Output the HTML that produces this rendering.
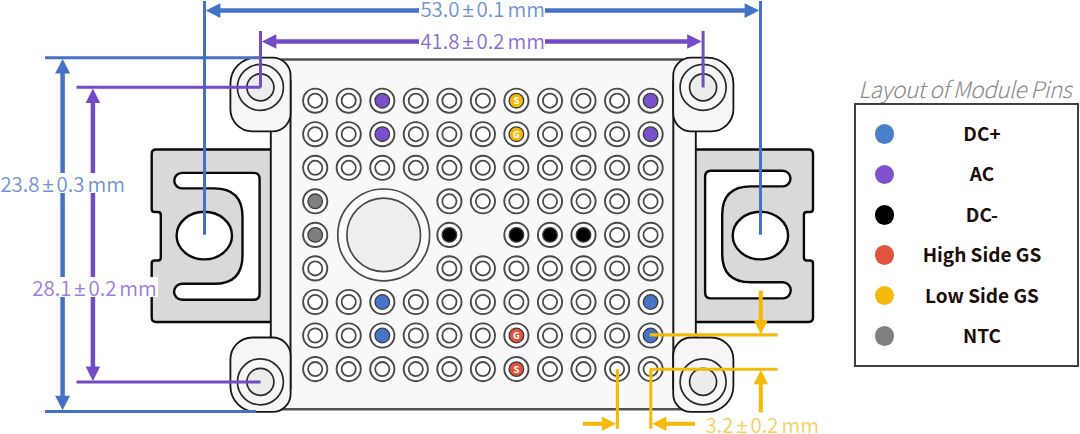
<!DOCTYPE html>
<html lang="en">
<head>
<meta charset="utf-8">
<title>Layout of Module Pins</title>
<style>
html,body{margin:0;padding:0;background:#fff;}
body{width:1080px;height:434px;overflow:hidden;position:relative;font-family:"Noto Sans CJK SC","Liberation Sans",sans-serif;}
svg{position:absolute;left:0;top:0;display:block;}
.br{fill:#d9d9d9;stroke:#0a0a0a;stroke-width:2.4;stroke-linejoin:round;}
.sl{fill:#fff;stroke:#0a0a0a;stroke-width:2.4;}
.fl{fill:#f8f8f8;stroke:#141414;stroke-width:1.9;}
.bd{fill:#f8f8f8;stroke:#4a4a4a;stroke-width:2;}
.bs{fill:#f6f6f6;stroke:#161616;stroke-width:1.8;}
.bc{fill:none;stroke:#2a2a2a;stroke-width:1.7;}
.bi{fill:#ececec;stroke:#2a2a2a;stroke-width:1.7;}
.po{fill:#fff;stroke:#4a4a4a;stroke-width:1.9;}
.pi{fill:#fff;stroke:#4a4a4a;stroke-width:1.8;}
.pc{stroke:#3c3c3c;stroke-width:1.3;}
.pl{font-size:9.5px;font-weight:700;fill:#fff;text-anchor:middle;}
.lb{stroke:#4472c4;fill:none;}
.lp{stroke:#734bc6;fill:none;}
.ly{stroke:#f3ba0c;fill:none;}
.dim{position:absolute;white-space:nowrap;font-weight:350;font-size:20.4px;line-height:20.3px;height:20.3px;padding:0 1px;background:#fff;word-spacing:-1.6px;overflow:visible;}
.pm{font-family:"Liberation Sans",sans-serif;line-height:0;}
.legend-title{position:absolute;left:858.3px;top:75.2px;font-size:22.7px;line-height:28px;letter-spacing:-0.6px;font-style:italic;font-weight:300;color:#8a8a8a;white-space:nowrap;}
.legend{position:absolute;left:853.7px;top:102.6px;width:221.6px;height:260px;border:2px solid #404040;background:#fff;box-sizing:content-box;}
.legend .row{position:absolute;left:0;width:100%;height:40px;}
.legend .dot{position:absolute;left:19.4px;top:10.3px;width:19.4px;height:19.4px;border-radius:50%;}
.legend .lab{position:absolute;left:31px;right:0;top:0;height:40px;line-height:37px;text-align:center;font-weight:700;font-size:19px;color:#1c0d0d;white-space:nowrap;}
</style>
</head>
<body>
<svg width="1080" height="434" viewBox="0 0 1080 434">
<!-- mounting brackets -->
<g><path class="br" d="M271.5 149.5 H156 Q151.7 149.5 151.7 154 V209 Q151.7 212 154.5 212 H158 Q160.8 212 160.8 215 V257.5 Q160.8 260.5 158 260.5 H154.5 Q151.7 260.5 151.7 263.5 V317.5 Q151.7 322 156 322 H271.5 Z"/>
<path class="sl" d="M182 172.9 H253.6 Q259.6 172.9 259.6 178.9 V293.7 Q259.6 299.7 253.6 299.7 H182 A7.95 7.95 0 0 1 182 283.8 H214 Q242.5 283.8 242.5 255.4 V216.8 Q242.5 188.4 214 188.4 H182 A7.75 7.75 0 0 1 182 172.9 Z"/>
<ellipse class="sl" cx="204.3" cy="235.6" rx="27.7" ry="23.8"/></g>
<g transform="translate(964.7 0) scale(-1 1)"><path class="br" d="M271.5 149.5 H156 Q151.7 149.5 151.7 154 V209 Q151.7 212 154.5 212 H158 Q160.8 212 160.8 215 V257.5 Q160.8 260.5 158 260.5 H154.5 Q151.7 260.5 151.7 263.5 V317.5 Q151.7 322 156 322 H271.5 Z"/>
<path class="sl" d="M182 170.8 H253.6 Q259.6 170.8 259.6 176.8 V292.4 Q259.6 298.4 253.6 298.4 H182 A8.05 8.05 0 0 1 182 282.3 H214 Q242.5 282.3 242.5 253.9 V214.8 Q242.5 186.4 214 186.4 H182 A7.80 7.80 0 0 1 182 170.8 Z"/>
<ellipse class="sl" cx="204.3" cy="235.6" rx="27.7" ry="23.8"/></g>
<!-- flange and body -->
<rect class="fl" x="270.8" y="95" width="425" height="280"/>
<path d="M281 59.5 H683 L673.3 76 V393 L683 409.3 H281 L290.5 393 V76 Z" fill="#f8f8f8"/>
<path d="M281 59.6 H683 M281 409.3 H683" fill="none" stroke="#505050" stroke-width="2.5"/>
<path d="M290.5 80 V389 M673.3 80 V389" fill="none" stroke="#1c1c1c" stroke-width="2"/>
<!-- corner bosses -->
<path class="bs" d="M256.4 57.6 H272.6 A18 18 0 0 1 290.6 75.6 V113.3 A18 18 0 0 1 272.6 131.3 H252.4 A22 22 0 0 1 230.4 109.3 V83.6 A26 26 0 0 1 256.4 57.6 Z"/>
<path class="bs" d="M691.2 57.6 H707.4 A26 26 0 0 1 733.4 83.6 V109.3 A22 22 0 0 1 711.4 131.3 H691.2 A18 18 0 0 1 673.2 113.3 V75.6 A18 18 0 0 1 691.2 57.6 Z"/>
<path class="bs" d="M252.4 337.5 H272.6 A18 18 0 0 1 290.6 355.5 V393.9 A18 18 0 0 1 272.6 411.9 H256.4 A26 26 0 0 1 230.4 385.9 V359.5 A22 22 0 0 1 252.4 337.5 Z"/>
<path class="bs" d="M691.2 337.5 H711.4 A22 22 0 0 1 733.4 359.5 V385.9 A26 26 0 0 1 707.4 411.9 H691.2 A18 18 0 0 1 673.2 393.9 V355.5 A18 18 0 0 1 691.2 337.5 Z"/>
<g>
<circle class="bc" cx="260.4" cy="87.4" r="23"/><circle class="bi" cx="260.4" cy="87.4" r="13.5"/>
<circle class="bc" cx="703.1" cy="87.4" r="23"/><circle class="bi" cx="703.1" cy="87.4" r="13.5"/>
<circle class="bc" cx="260.4" cy="381.8" r="23"/><circle class="bi" cx="260.4" cy="381.8" r="13.5"/>
<circle class="bc" cx="703.1" cy="381.8" r="23"/><circle class="bi" cx="703.1" cy="381.8" r="13.5"/>
</g>
<!-- big centre circle -->
<circle cx="383.7" cy="234.9" r="45.9" fill="#fcfcfc" stroke="#4a4a4a" stroke-width="1.7"/>
<circle cx="383.7" cy="234.9" r="36.8" fill="#eeeeee" stroke="#4a4a4a" stroke-width="1.7"/>
<!-- pins -->
<g>
<circle class="po" cx="315.2" cy="100.7" r="12.1"/>
<circle class="pi" cx="315.2" cy="100.7" r="7.1"/>
<circle class="po" cx="348.7" cy="100.7" r="12.1"/>
<circle class="pi" cx="348.7" cy="100.7" r="7.1"/>
<circle class="po" cx="382.3" cy="100.7" r="12.1"/>
<circle class="pc" cx="382.3" cy="100.7" r="7.3" fill="#7a50cc"/>
<circle class="po" cx="415.8" cy="100.7" r="12.1"/>
<circle class="pi" cx="415.8" cy="100.7" r="7.1"/>
<circle class="po" cx="449.4" cy="100.7" r="12.1"/>
<circle class="pi" cx="449.4" cy="100.7" r="7.1"/>
<circle class="po" cx="482.9" cy="100.7" r="12.1"/>
<circle class="pi" cx="482.9" cy="100.7" r="7.1"/>
<circle class="po" cx="516.4" cy="100.7" r="12.1"/>
<circle class="pc" cx="516.4" cy="100.7" r="7.3" fill="#f3ba0c"/>
<text class="pl" x="516.4" y="104.2">S</text>
<circle class="po" cx="550.0" cy="100.7" r="12.1"/>
<circle class="pi" cx="550.0" cy="100.7" r="7.1"/>
<circle class="po" cx="583.5" cy="100.7" r="12.1"/>
<circle class="pi" cx="583.5" cy="100.7" r="7.1"/>
<circle class="po" cx="617.1" cy="100.7" r="12.1"/>
<circle class="pi" cx="617.1" cy="100.7" r="7.1"/>
<circle class="po" cx="650.6" cy="100.7" r="12.1"/>
<circle class="pc" cx="650.6" cy="100.7" r="7.3" fill="#7a50cc"/>
<circle class="po" cx="315.2" cy="134.2" r="12.1"/>
<circle class="pi" cx="315.2" cy="134.2" r="7.1"/>
<circle class="po" cx="348.7" cy="134.2" r="12.1"/>
<circle class="pi" cx="348.7" cy="134.2" r="7.1"/>
<circle class="po" cx="382.3" cy="134.2" r="12.1"/>
<circle class="pc" cx="382.3" cy="134.2" r="7.3" fill="#7a50cc"/>
<circle class="po" cx="415.8" cy="134.2" r="12.1"/>
<circle class="pi" cx="415.8" cy="134.2" r="7.1"/>
<circle class="po" cx="449.4" cy="134.2" r="12.1"/>
<circle class="pi" cx="449.4" cy="134.2" r="7.1"/>
<circle class="po" cx="482.9" cy="134.2" r="12.1"/>
<circle class="pi" cx="482.9" cy="134.2" r="7.1"/>
<circle class="po" cx="516.4" cy="134.2" r="12.1"/>
<circle class="pc" cx="516.4" cy="134.2" r="7.3" fill="#f3ba0c"/>
<text class="pl" x="516.4" y="137.8">G</text>
<circle class="po" cx="550.0" cy="134.2" r="12.1"/>
<circle class="pi" cx="550.0" cy="134.2" r="7.1"/>
<circle class="po" cx="583.5" cy="134.2" r="12.1"/>
<circle class="pi" cx="583.5" cy="134.2" r="7.1"/>
<circle class="po" cx="617.1" cy="134.2" r="12.1"/>
<circle class="pi" cx="617.1" cy="134.2" r="7.1"/>
<circle class="po" cx="650.6" cy="134.2" r="12.1"/>
<circle class="pc" cx="650.6" cy="134.2" r="7.3" fill="#7a50cc"/>
<circle class="po" cx="315.2" cy="167.8" r="12.1"/>
<circle class="pi" cx="315.2" cy="167.8" r="7.1"/>
<circle class="po" cx="348.7" cy="167.8" r="12.1"/>
<circle class="pi" cx="348.7" cy="167.8" r="7.1"/>
<circle class="po" cx="382.3" cy="167.8" r="12.1"/>
<circle class="pi" cx="382.3" cy="167.8" r="7.1"/>
<circle class="po" cx="415.8" cy="167.8" r="12.1"/>
<circle class="pi" cx="415.8" cy="167.8" r="7.1"/>
<circle class="po" cx="449.4" cy="167.8" r="12.1"/>
<circle class="pi" cx="449.4" cy="167.8" r="7.1"/>
<circle class="po" cx="482.9" cy="167.8" r="12.1"/>
<circle class="pi" cx="482.9" cy="167.8" r="7.1"/>
<circle class="po" cx="516.4" cy="167.8" r="12.1"/>
<circle class="pi" cx="516.4" cy="167.8" r="7.1"/>
<circle class="po" cx="550.0" cy="167.8" r="12.1"/>
<circle class="pi" cx="550.0" cy="167.8" r="7.1"/>
<circle class="po" cx="583.5" cy="167.8" r="12.1"/>
<circle class="pi" cx="583.5" cy="167.8" r="7.1"/>
<circle class="po" cx="617.1" cy="167.8" r="12.1"/>
<circle class="pi" cx="617.1" cy="167.8" r="7.1"/>
<circle class="po" cx="650.6" cy="167.8" r="12.1"/>
<circle class="pi" cx="650.6" cy="167.8" r="7.1"/>
<circle class="po" cx="315.2" cy="201.3" r="12.1"/>
<circle class="pc" cx="315.2" cy="201.3" r="7.3" fill="#7f7f7f"/>
<circle class="po" cx="449.4" cy="201.3" r="12.1"/>
<circle class="pi" cx="449.4" cy="201.3" r="7.1"/>
<circle class="po" cx="482.9" cy="201.3" r="12.1"/>
<circle class="pi" cx="482.9" cy="201.3" r="7.1"/>
<circle class="po" cx="516.4" cy="201.3" r="12.1"/>
<circle class="pi" cx="516.4" cy="201.3" r="7.1"/>
<circle class="po" cx="550.0" cy="201.3" r="12.1"/>
<circle class="pi" cx="550.0" cy="201.3" r="7.1"/>
<circle class="po" cx="583.5" cy="201.3" r="12.1"/>
<circle class="pi" cx="583.5" cy="201.3" r="7.1"/>
<circle class="po" cx="617.1" cy="201.3" r="12.1"/>
<circle class="pi" cx="617.1" cy="201.3" r="7.1"/>
<circle class="po" cx="650.6" cy="201.3" r="12.1"/>
<circle class="pi" cx="650.6" cy="201.3" r="7.1"/>
<circle class="po" cx="315.2" cy="234.9" r="12.1"/>
<circle class="pc" cx="315.2" cy="234.9" r="7.3" fill="#7f7f7f"/>
<circle class="po" cx="449.4" cy="234.9" r="12.1"/>
<circle class="pc" cx="449.4" cy="234.9" r="7.3" fill="#000"/>
<circle class="po" cx="516.4" cy="234.9" r="12.1"/>
<circle class="pc" cx="516.4" cy="234.9" r="7.3" fill="#000"/>
<circle class="po" cx="550.0" cy="234.9" r="12.1"/>
<circle class="pc" cx="550.0" cy="234.9" r="7.3" fill="#000"/>
<circle class="po" cx="583.5" cy="234.9" r="12.1"/>
<circle class="pc" cx="583.5" cy="234.9" r="7.3" fill="#000"/>
<circle class="po" cx="617.1" cy="234.9" r="12.1"/>
<circle class="pi" cx="617.1" cy="234.9" r="7.1"/>
<circle class="po" cx="650.6" cy="234.9" r="12.1"/>
<circle class="pi" cx="650.6" cy="234.9" r="7.1"/>
<circle class="po" cx="315.2" cy="268.4" r="12.1"/>
<circle class="pi" cx="315.2" cy="268.4" r="7.1"/>
<circle class="po" cx="449.4" cy="268.4" r="12.1"/>
<circle class="pi" cx="449.4" cy="268.4" r="7.1"/>
<circle class="po" cx="482.9" cy="268.4" r="12.1"/>
<circle class="pi" cx="482.9" cy="268.4" r="7.1"/>
<circle class="po" cx="516.4" cy="268.4" r="12.1"/>
<circle class="pi" cx="516.4" cy="268.4" r="7.1"/>
<circle class="po" cx="550.0" cy="268.4" r="12.1"/>
<circle class="pi" cx="550.0" cy="268.4" r="7.1"/>
<circle class="po" cx="583.5" cy="268.4" r="12.1"/>
<circle class="pi" cx="583.5" cy="268.4" r="7.1"/>
<circle class="po" cx="617.1" cy="268.4" r="12.1"/>
<circle class="pi" cx="617.1" cy="268.4" r="7.1"/>
<circle class="po" cx="650.6" cy="268.4" r="12.1"/>
<circle class="pi" cx="650.6" cy="268.4" r="7.1"/>
<circle class="po" cx="315.2" cy="302.0" r="12.1"/>
<circle class="pi" cx="315.2" cy="302.0" r="7.1"/>
<circle class="po" cx="348.7" cy="302.0" r="12.1"/>
<circle class="pi" cx="348.7" cy="302.0" r="7.1"/>
<circle class="po" cx="382.3" cy="302.0" r="12.1"/>
<circle class="pc" cx="382.3" cy="302.0" r="7.3" fill="#4675c6"/>
<circle class="po" cx="415.8" cy="302.0" r="12.1"/>
<circle class="pi" cx="415.8" cy="302.0" r="7.1"/>
<circle class="po" cx="449.4" cy="302.0" r="12.1"/>
<circle class="pi" cx="449.4" cy="302.0" r="7.1"/>
<circle class="po" cx="482.9" cy="302.0" r="12.1"/>
<circle class="pi" cx="482.9" cy="302.0" r="7.1"/>
<circle class="po" cx="516.4" cy="302.0" r="12.1"/>
<circle class="pi" cx="516.4" cy="302.0" r="7.1"/>
<circle class="po" cx="550.0" cy="302.0" r="12.1"/>
<circle class="pi" cx="550.0" cy="302.0" r="7.1"/>
<circle class="po" cx="583.5" cy="302.0" r="12.1"/>
<circle class="pi" cx="583.5" cy="302.0" r="7.1"/>
<circle class="po" cx="617.1" cy="302.0" r="12.1"/>
<circle class="pi" cx="617.1" cy="302.0" r="7.1"/>
<circle class="po" cx="650.6" cy="302.0" r="12.1"/>
<circle class="pc" cx="650.6" cy="302.0" r="7.3" fill="#4675c6"/>
<circle class="po" cx="315.2" cy="335.5" r="12.1"/>
<circle class="pi" cx="315.2" cy="335.5" r="7.1"/>
<circle class="po" cx="348.7" cy="335.5" r="12.1"/>
<circle class="pi" cx="348.7" cy="335.5" r="7.1"/>
<circle class="po" cx="382.3" cy="335.5" r="12.1"/>
<circle class="pc" cx="382.3" cy="335.5" r="7.3" fill="#4675c6"/>
<circle class="po" cx="415.8" cy="335.5" r="12.1"/>
<circle class="pi" cx="415.8" cy="335.5" r="7.1"/>
<circle class="po" cx="449.4" cy="335.5" r="12.1"/>
<circle class="pi" cx="449.4" cy="335.5" r="7.1"/>
<circle class="po" cx="482.9" cy="335.5" r="12.1"/>
<circle class="pi" cx="482.9" cy="335.5" r="7.1"/>
<circle class="po" cx="516.4" cy="335.5" r="12.1"/>
<circle class="pc" cx="516.4" cy="335.5" r="7.3" fill="#e0533d"/>
<text class="pl" x="516.4" y="339.0">G</text>
<circle class="po" cx="550.0" cy="335.5" r="12.1"/>
<circle class="pi" cx="550.0" cy="335.5" r="7.1"/>
<circle class="po" cx="583.5" cy="335.5" r="12.1"/>
<circle class="pi" cx="583.5" cy="335.5" r="7.1"/>
<circle class="po" cx="617.1" cy="335.5" r="12.1"/>
<circle class="pi" cx="617.1" cy="335.5" r="7.1"/>
<circle class="po" cx="650.6" cy="335.5" r="12.1"/>
<circle class="pc" cx="650.6" cy="335.5" r="7.3" fill="#4675c6"/>
<circle class="po" cx="315.2" cy="369.1" r="12.1"/>
<circle class="pi" cx="315.2" cy="369.1" r="7.1"/>
<circle class="po" cx="348.7" cy="369.1" r="12.1"/>
<circle class="pi" cx="348.7" cy="369.1" r="7.1"/>
<circle class="po" cx="382.3" cy="369.1" r="12.1"/>
<circle class="pi" cx="382.3" cy="369.1" r="7.1"/>
<circle class="po" cx="415.8" cy="369.1" r="12.1"/>
<circle class="pi" cx="415.8" cy="369.1" r="7.1"/>
<circle class="po" cx="449.4" cy="369.1" r="12.1"/>
<circle class="pi" cx="449.4" cy="369.1" r="7.1"/>
<circle class="po" cx="482.9" cy="369.1" r="12.1"/>
<circle class="pi" cx="482.9" cy="369.1" r="7.1"/>
<circle class="po" cx="516.4" cy="369.1" r="12.1"/>
<circle class="pc" cx="516.4" cy="369.1" r="7.3" fill="#e0533d"/>
<text class="pl" x="516.4" y="372.6">S</text>
<circle class="po" cx="550.0" cy="369.1" r="12.1"/>
<circle class="pi" cx="550.0" cy="369.1" r="7.1"/>
<circle class="po" cx="583.5" cy="369.1" r="12.1"/>
<circle class="pi" cx="583.5" cy="369.1" r="7.1"/>
<circle class="po" cx="617.1" cy="369.1" r="12.1"/>
<circle class="pi" cx="617.1" cy="369.1" r="7.1"/>
<circle class="po" cx="650.6" cy="369.1" r="12.1"/>
<circle class="pi" cx="650.6" cy="369.1" r="7.1"/>
</g>
<!-- blue dimension -->
<g class="lb" stroke-width="3">
<path d="M204.5 1 V234.8 M760.5 1 V234.8"/>
<path d="M45 57.8 H260 M45 411.4 H256"/>
</g>
<g class="lb" stroke-width="4.5">
<path d="M218 10.6 H746"/>
<path d="M62.6 70 V399"/>
</g>
<g fill="#4472c4">
<path d="M205.8 10.6 L220.4 3.3 V17.9 Z"/><path d="M759.2 10.6 L744.6 3.3 V17.9 Z"/>
<path d="M62.6 59 L55.1 73.6 H70.1 Z"/><path d="M62.6 410.3 L55.1 395.7 H70.1 Z"/>
</g>
<!-- purple dimension -->
<g class="lp" stroke-width="3">
<path d="M260.5 31 V87.4 M703.1 31 V87.4"/>
<path d="M76.5 87.3 H260.5 M76.5 382.1 H260.5"/>
</g>
<g class="lp" stroke-width="4.5">
<path d="M274 41.5 H690"/>
<path d="M92.9 100 V370"/>
</g>
<g fill="#734bc6">
<path d="M261.8 41.5 L276.4 34.2 V48.8 Z"/><path d="M701.8 41.5 L687.2 34.2 V48.8 Z"/>
<path d="M92.9 88.5 L85.6 103.1 H100.2 Z"/><path d="M92.9 381 L85.6 366.4 H100.2 Z"/>
</g>
<!-- yellow dimension -->
<g class="ly" stroke-width="3.1">
<path d="M649.8 334.9 H777.6 M649.8 369.3 H777.6"/>
<path d="M617.4 369.3 V428.8 M650.8 369.3 V428.8"/>
</g>
<g class="ly" stroke-width="4.1">
<path d="M760.8 290.6 V322 M760.8 382 V412.5"/>
<path d="M582.8 423.7 H603 M665 423.7 H695"/>
</g>
<g fill="#f3ba0c">
<path d="M760.8 334.2 L753.6 320 H768 Z"/><path d="M760.8 370 L753.6 384.2 H768 Z"/>
<path d="M616 423.7 L601.8 416.5 V430.9 Z"/><path d="M652.2 423.7 L666.4 416.5 V430.9 Z"/>
</g>
</svg>
<div class="dim" style="left:419.4px;top:-2px;width:123.2px;color:#6f93d2;">53.0 <span class="pm">±</span> 0.1 mm</div>
<div class="dim" style="left:419.4px;top:30.2px;width:123.2px;color:#8c6cd2;">41.8 <span class="pm">±</span> 0.2 mm</div>
<div class="dim" style="left:-0.6px;top:173px;color:#6f93d2;">23.8 <span class="pm">±</span> 0.3 mm</div>
<div class="dim" style="left:31.3px;top:276.6px;color:#9b7cdc;padding-right:1.5px;">28.1 <span class="pm">±</span> 0.2 mm</div>
<div class="dim" style="left:704.6px;top:414.1px;color:#f7cf5a;background:transparent;">3.2 <span class="pm">±</span> 0.2 mm</div>
<div class="legend-title">Layout of Module Pins</div>
<div class="legend">
<div class="row" style="top:9.4px"><span class="dot" style="background:#4a7fcc"></span><span class="lab">DC+</span></div>
<div class="row" style="top:49.8px"><span class="dot" style="background:#7d52cc"></span><span class="lab">AC</span></div>
<div class="row" style="top:90.3px"><span class="dot" style="background:#000"></span><span class="lab">DC-</span></div>
<div class="row" style="top:130.5px"><span class="dot" style="background:#e0533d"></span><span class="lab">High Side GS</span></div>
<div class="row" style="top:171px"><span class="dot" style="background:#f3ba0c"></span><span class="lab">Low Side GS</span></div>
<div class="row" style="top:211.4px"><span class="dot" style="background:#7f7f7f"></span><span class="lab">NTC</span></div>
</div>
</body>
</html>
